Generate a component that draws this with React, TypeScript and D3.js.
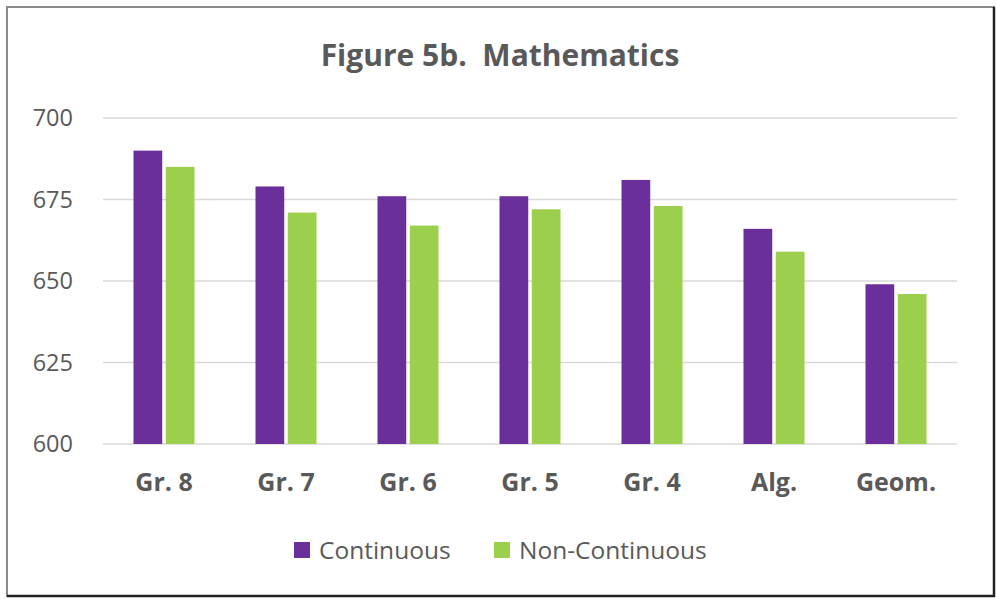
import React, { useEffect, useRef } from "react";
import * as d3 from "d3";

const categories = ["Gr. 8", "Gr. 7", "Gr. 6", "Gr. 5", "Gr. 4", "Alg.", "Geom."];
const continuous = [690, 679, 676, 676, 681, 666, 649];
const nonContinuous = [685, 671, 667, 672, 673, 659, 646];
const seriesNames = ["Continuous", "Non-Continuous"];
const seriesColors = ["#6a2f9b", "#9ccf4c"];
const yTicks = [600, 625, 650, 675, 700];

export default function App() {
  const ref = useRef<SVGSVGElement>(null);

  useEffect(() => {
    const W = 996, H = 599;
    const margin = { top: 118, right: 39, bottom: 155, left: 103 };
    const width = W - margin.left - margin.right;
    const height = H - margin.top - margin.bottom;

    const svg = d3.select(ref.current);
    svg.selectAll("*").remove();

    svg.append("rect").attr("width", W).attr("height", H).attr("fill", "#fff");

    // outer frame
    svg.append("rect")
      .attr("x", 7).attr("y", 7).attr("width", 987).attr("height", 589)
      .attr("fill", "none").attr("stroke", "#8a8a8a").attr("stroke-width", 2);
    svg.append("path")
      .attr("d", "M994,7 V596 H7")
      .attr("fill", "none").attr("stroke", "#222").attr("stroke-width", 2.5);

    svg.append("text")
      .attr("x", 500).attr("y", 66)
      .attr("text-anchor", "middle")
      .style("font-family", "'Open Sans', sans-serif")
      .style("font-weight", "bold")
      .style("font-size", "30px")
      .style("fill", "#595959")
      .text("Figure 5b.\u00a0\u00a0Mathematics");

    const g = svg.append("g").attr("transform", `translate(${margin.left},${margin.top})`);

    const x = d3.scaleBand().domain(categories).range([0, width]).padding(0);
    const y = d3.scaleLinear().domain([600, 700]).range([height, 0]);
    const inner = d3.scaleBand().domain(seriesNames).range([x.bandwidth() * 0.25, x.bandwidth() * 0.75]).paddingInner(0.11);

    g.selectAll(".grid").data(yTicks).enter().append("line")
      .attr("x1", 0).attr("x2", width)
      .attr("y1", d => y(d)).attr("y2", d => y(d))
      .attr("stroke", "#d9d9d9").attr("stroke-width", 1.5);

    const yAxis = d3.axisLeft(y).tickValues(yTicks).tickSize(0).tickPadding(30);
    g.append("g").call(yAxis)
      .call(s => s.select(".domain").remove())
      .selectAll("text")
      .style("font-family", "'Open Sans', sans-serif")
      .style("font-size", "23.5px")
      .style("fill", "#595959");

    const xAxis = d3.axisBottom(x).tickSize(0).tickPadding(29);
    g.append("g").attr("transform", `translate(0,${height})`).call(xAxis)
      .call(s => s.select(".domain").remove())
      .selectAll("text")
      .style("font-family", "'Open Sans', sans-serif")
      .style("font-weight", "bold")
      .style("font-size", "25px")
      .style("fill", "#595959");

    const rows = categories.map((c, i) => ({ c, vals: [continuous[i], nonContinuous[i]] }));
    const groups = g.selectAll(".grp").data(rows).enter().append("g")
      .attr("transform", d => `translate(${x(d.c)},0)`);
    groups.selectAll("rect")
      .data(d => d.vals.map((v, j) => ({ v, s: seriesNames[j], col: seriesColors[j] })))
      .enter().append("rect")
      .attr("x", d => inner(d.s)!)
      .attr("width", inner.bandwidth())
      .attr("y", d => y(d.v))
      .attr("height", d => height - y(d.v))
      .attr("fill", d => d.col);

    // legend
    const legend = svg.append("g").attr("transform", "translate(294,550)");
    const offsets = [0, 200];
    seriesNames.forEach((n, i) => {
      const lg = legend.append("g").attr("transform", `translate(${offsets[i]},0)`);
      lg.append("rect").attr("x", 0).attr("y", -8).attr("width", 16).attr("height", 16).attr("fill", seriesColors[i]);
      lg.append("text").attr("x", 25).attr("y", 0).attr("dy", "0.35em")
        .style("font-family", "'Open Sans', sans-serif")
        .style("font-size", "24.5px")
        .style("fill", "#595959")
        .text(n);
    });
  }, []);

  return (
    <svg ref={ref} width={996} height={599} style={{ position: "absolute", left: 0, top: 0 }} />
  );
}
